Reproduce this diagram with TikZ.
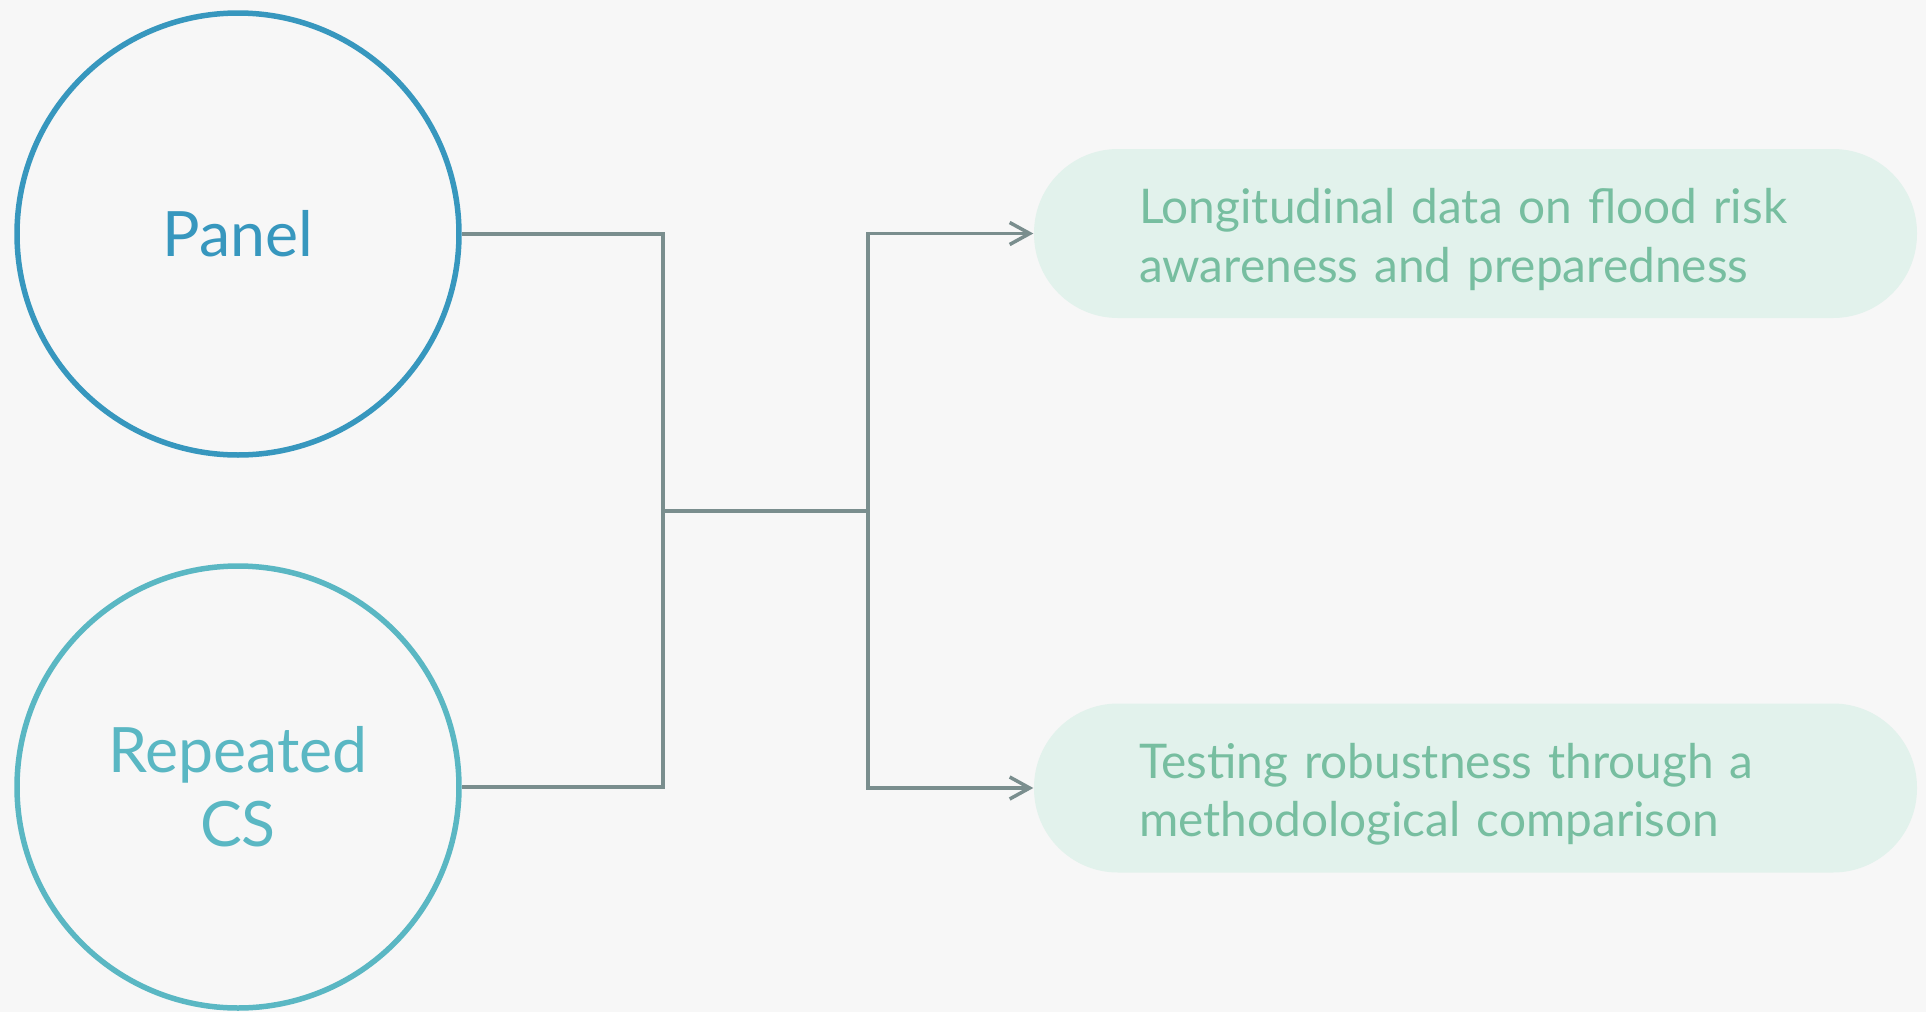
\documentclass[tikz,border=0pt]{standalone}
\usepackage{fontspec}
\setmainfont{Lato}
\usetikzlibrary{arrows.meta, positioning}

\definecolor{panelblue}{RGB}{55,151,190}
\definecolor{csblue}{RGB}{90,183,195}
\definecolor{linkgray}{RGB}{122,142,142}
\definecolor{outfill}{RGB}{226,242,236}
\definecolor{outtext}{RGB}{119,190,160}
\definecolor{paper}{RGB}{247,247,247}

\begin{document}
\begin{tikzpicture}[x=0.1mm, y=-0.1mm,
  design/.style={circle, draw, line width=0.55mm, minimum size=44.2mm, inner sep=0pt,
    align=center, font=\fontsize{17.8}{21}\selectfont},
  outcome/.style={rectangle, fill=outfill, text=outtext, rounded corners=8.4mm,
    minimum width=88.3mm, minimum height=16.9mm, inner xsep=10.5mm, inner ysep=0pt,
    text width=67.3mm, align=left, font=\fontsize{13.6}{16.6}\selectfont},
  link/.style={draw=linkgray, line width=0.35mm},
  >={Straight Barb[length=2mm, width=2.2mm, line width=0.35mm]}]
\fill[paper] (0,0) rectangle (1926,1012);
\useasboundingbox (0,0) rectangle (1926,1012);

\node[design, draw=panelblue, text=panelblue] (panel) at (238,234) {Panel};
\node[design, draw=csblue, text=csblue] (cs) at (238,787) {Repeated\\CS};

\node[outcome] (long) at (1475.5,233.5) {\rule{0pt}{13.5pt}Longitudinal data on flood risk awareness and preparedness};
\node[outcome] (test) at (1475.5,788) {\rule{0pt}{13.5pt}Testing robustness through a methodological comparison};

\coordinate (join) at (663,511);
\coordinate (split) at (868,511);

% both designs meet, then feed both outcomes
\draw[link] (panel.east) -| (join) |- (cs.east);
\draw[link] (join) -- (split);
\draw[link, ->] (split) |- (long.west);
\draw[link, ->] (split) |- (test.west);
\end{tikzpicture}
\end{document}
